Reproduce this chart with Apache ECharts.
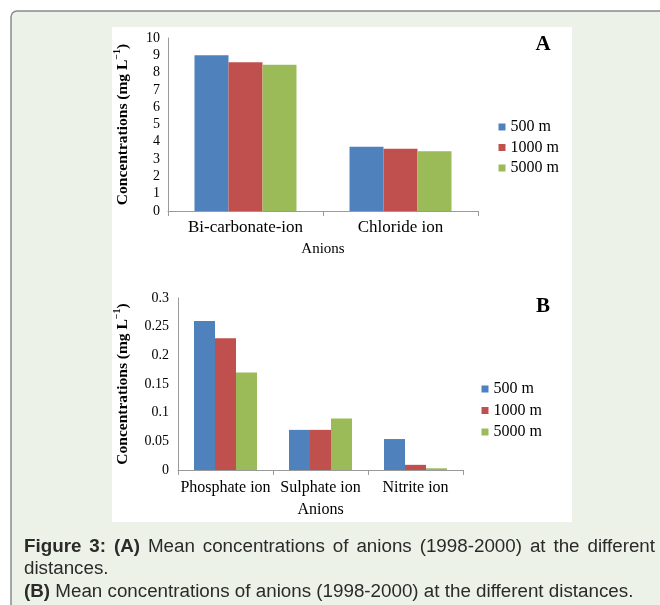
<!DOCTYPE html>
<html><head><meta charset="utf-8">
<script src="https://cdn.jsdelivr.net/npm/echarts@6/dist/echarts.min.js"></script>
<style>html,body{margin:0;padding:0;background:#fff}#c{width:660px;height:605px}</style>
</head><body><div id="c"></div>
<script>
// ---- data ----
const seriesNames = ['500 m', '1000 m', '5000 m'];
const catA = ['Bi-carbonate-ion', 'Chloride ion'];
const valA500 = [9.0, 3.72];
const valA1000 = [8.6, 3.6];
const valA5000 = [8.45, 3.45];
const catB = ['Phosphate ion', 'Sulphate ion', 'Nitrite ion'];
const valB500 = [0.26, 0.07, 0.054];
const valB1000 = [0.23, 0.07, 0.009];
const valB5000 = [0.17, 0.09, 0.003];
const axisA = { min: 0, max: 10, interval: 1 };
const axisB = { min: 0, max: 0.3, interval: 0.05 };
const yName = 'Concentrations (mg L';
const xName = 'Anions';
const captionLines = [
  { bold: ['Figure', '3:', '(A)'], normal: ['Mean', 'concentrations', 'of', 'anions', '(1998-2000)', 'at', 'the', 'different'], justify: true },
  { bold: [], normal: ['distances.'], justify: false },
  { bold: ['(B)'], normal: ['Mean', 'concentrations', 'of', 'anions', '(1998-2000)', 'at', 'the', 'different', 'distances.'], justify: false }
];

const colors = ['#4F81BD', '#C0504D', '#9BBB59'];
const serif = 'Liberation Serif';
const sans = 'Liberation Sans';
const capSize = 18.8;

// ---- caption rich text, justified via canvas measuring ----
const cv = document.createElement('canvas').getContext('2d');
function w(text, bold) { cv.font = (bold ? 'bold ' : '') + capSize + 'px "' + sans + '"'; return cv.measureText(text).width; }
function buildLine(line, target) {
  const words = line.bold.map(t => ({ t, b: true })).concat(line.normal.map(t => ({ t, b: false })));
  const gaps = words.length - 1;
  let sp = w(' ', false);
  if (line.justify && gaps > 0) {
    const sum = words.reduce((a, x) => a + w(x.t, x.b), 0);
    sp = (target - sum) / gaps;
  }
  let s = '';
  words.forEach((x, i) => {
    s += '{' + (x.b ? 'b' : 'n') + '|' + x.t + '}';
    if (i < gaps) s += '{s| }';
  });
  return { text: s, sp };
}
function capGraphic(line, top) {
  const r = buildLine(line, 631);
  return {
    type: 'text', left: 24, top: top, z: 10,
    style: {
      text: r.text,
      rich: {
        b: { fontFamily: sans, fontSize: capSize, fontWeight: 'bold', fill: '#2a2a2a', lineHeight: 22 },
        n: { fontFamily: sans, fontSize: capSize, fill: '#2a2a2a', lineHeight: 22 },
        s: { fontFamily: sans, fontSize: capSize, width: r.sp, lineHeight: 22 }
      }
    }
  };
}

const tickLabel = { fontFamily: serif, fontSize: 14, color: '#000' };
const axisLineStyle = { lineStyle: { color: '#9a9a9a', width: 1 } };
const yNameRich = {
  a: { fontFamily: serif, fontSize: 15.5, fontWeight: 'bold', color: '#000' },
  s: { fontFamily: serif, fontSize: 10, fontWeight: 'bold', color: '#000', verticalAlign: 'top', lineHeight: 22 }
};
const yNameText = '{a|' + yName + '}{s|−1}{a|)}';

function mkSeries(vals, gi) {
  return vals.map((v, i) => ({
    name: seriesNames[i], type: 'bar', xAxisIndex: gi, yAxisIndex: gi,
    data: v, itemStyle: { color: colors[i] }, barGap: '0%',
    barCategoryGap: gi === 0 ? '34.2%' : '33.7%', emphasis: { disabled: true }
  }));
}

const legendBase = {
  orient: 'vertical', icon: 'rect', itemWidth: 7, itemHeight: 7, padding: 0,
  itemTextGap: 6, data: seriesNames, selectedMode: false,
  textStyle: { fontFamily: serif, fontSize: 16, color: '#000' }
};

const option = {
  animation: false,
  backgroundColor: '#ffffff',
  grid: [
    { left: 168, top: 38, width: 310, height: 173 },
    { left: 178, top: 298, width: 285, height: 172 }
  ],
  xAxis: [
    { type: 'category', gridIndex: 0, data: catA, axisLine: axisLineStyle,
      axisTick: { show: true, length: 5, lineStyle: { color: '#9a9a9a' } },
      axisLabel: { fontFamily: serif, fontSize: 17, color: '#000', margin: 8, interval: 0 },
      name: xName, nameLocation: 'middle', nameGap: 31,
      nameTextStyle: { fontFamily: serif, fontSize: 15, color: '#000' } },
    { type: 'category', gridIndex: 1, data: catB, axisLine: axisLineStyle,
      axisTick: { show: true, length: 5, lineStyle: { color: '#9a9a9a' } },
      axisLabel: { fontFamily: serif, fontSize: 16, color: '#000', margin: 10, interval: 0 },
      name: xName, nameLocation: 'middle', nameGap: 32,
      nameTextStyle: { fontFamily: serif, fontSize: 16, color: '#000' } }
  ],
  yAxis: [
    { type: 'value', gridIndex: 0, min: axisA.min, max: axisA.max, interval: axisA.interval,
      axisLine: { show: true, lineStyle: { color: '#9a9a9a' } }, axisTick: { show: false },
      splitLine: { show: false }, axisLabel: Object.assign({ margin: 8 }, tickLabel),
      name: yNameText, nameLocation: 'middle', nameGap: 34,
      nameTextStyle: { rich: yNameRich } },
    { type: 'value', gridIndex: 1, min: axisB.min, max: axisB.max, interval: axisB.interval,
      axisLine: { show: true, lineStyle: { color: '#9a9a9a' } }, axisTick: { show: false },
      splitLine: { show: false }, axisLabel: Object.assign({ margin: 9 }, tickLabel),
      name: yNameText, nameLocation: 'middle', nameGap: 44,
      nameTextStyle: { rich: yNameRich } }
  ],
  legend: [
    Object.assign({ left: 498.5, top: 119, itemGap: 4.5 }, legendBase),
    Object.assign({ left: 481.5, top: 381, itemGap: 5.5 }, legendBase)
  ],
  graphic: [
    { type: 'rect', z: -10, silent: true, shape: { x: 11, y: 11, width: 700, height: 650, r: 6 },
      style: { fill: '#EDF2E8', stroke: '#8a8a8a', lineWidth: 1.5 } },
    { type: 'rect', z: -9, silent: true, shape: { x: 112, y: 27, width: 460, height: 495 },
      style: { fill: '#ffffff' } },
    { type: 'text', z: 10, x: 543, y: 45, style: { text: 'A', fontFamily: serif, fontSize: 21, fontWeight: 'bold', fill: '#000', align: 'center', verticalAlign: 'middle' } },
    { type: 'text', z: 10, x: 543, y: 307, style: { text: 'B', fontFamily: serif, fontSize: 21, fontWeight: 'bold', fill: '#000', align: 'center', verticalAlign: 'middle' } },
    capGraphic(captionLines[0], 537),
    capGraphic(captionLines[1], 559),
    capGraphic(captionLines[2], 582)
  ],
  series: mkSeries([valA500, valA1000, valA5000], 0).concat(mkSeries([valB500, valB1000, valB5000], 1))
};

const chart = echarts.init(document.getElementById('c'), null, { renderer: 'canvas' });
chart.setOption(option);
</script>
</body></html>
